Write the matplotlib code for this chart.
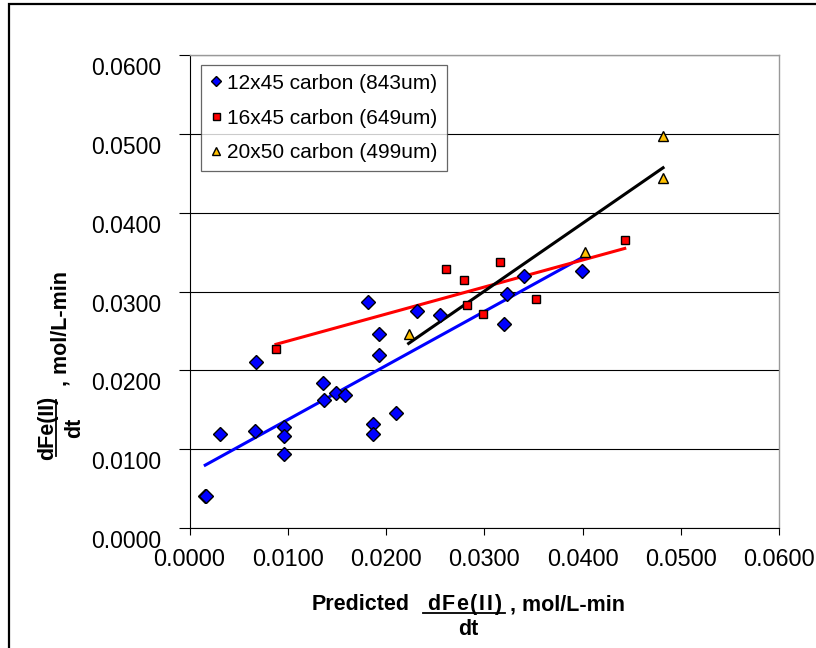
import numpy as np
import matplotlib
matplotlib.use('Agg')
import matplotlib.pyplot as plt
from matplotlib.lines import Line2D
from matplotlib.patches import Rectangle
from matplotlib.transforms import ScaledTranslation

plt.rcParams['font.family'] = ['Liberation Sans', 'DejaVu Sans']

# measured vs predicted dFe(II)/dt, mol/L-min
x_12x45 = [0.00160, 0.00170, 0.00313, 0.00674, 0.00670, 0.00959, 0.00959, 0.00959,
           0.01359, 0.01372, 0.01491, 0.01580, 0.01814, 0.01929, 0.01929, 0.01865,
           0.01865, 0.02099, 0.02316, 0.02553, 0.03228, 0.03204, 0.03408, 0.03998]
y_12x45 = [0.00400, 0.00410, 0.01189, 0.02110, 0.01234, 0.01277, 0.01167, 0.00939,
           0.01835, 0.01624, 0.01709, 0.01687, 0.02863, 0.02465, 0.02191, 0.01319,
           0.01189, 0.01463, 0.02753, 0.02702, 0.02972, 0.02592, 0.03200, 0.03260]

x_16x45 = [0.0088, 0.0261, 0.0279, 0.0282, 0.0299, 0.0316, 0.0353, 0.0443]
y_16x45 = [0.0227, 0.0329, 0.0314, 0.0283, 0.0272, 0.0337, 0.0291, 0.0365]

x_20x50 = [0.0223, 0.0403, 0.0482, 0.0482]
y_20x50 = [0.0246, 0.0350, 0.0497, 0.0444]

labels = ['12x45 carbon (843um)', '16x45 carbon (649um)', '20x50 carbon (499um)']
ticks = [0.0, 0.01, 0.02, 0.03, 0.04, 0.05, 0.06]

W, H = 816, 648
fig = plt.figure(figsize=(W / 100, H / 100), dpi=100)
renderer = fig.canvas.get_renderer()


def fx(px):
    return px / W


def fy(py):
    return 1 - py / H


def spaced_text(x0, y0, s, gap, **kw):
    """Draw s one glyph at a time with extra spacing (pixels)."""
    pos = x0
    for ch in s:
        t = fig.text(fx(pos), fy(y0), ch, ha='left', va='baseline', **kw)
        pos += t.get_window_extent(renderer).width + gap


ax = fig.add_axes([fx(189.5), fy(528), (779 - 189.5) / W, (528 - 55) / H])

ax.plot(x_12x45, y_12x45, 'D', ms=6.8, mfc='#0000FF', mec='black', mew=1.0,
        label=labels[0], zorder=4)
ax.plot(x_16x45, y_16x45, 's', ms=6.3, mfc='#FF0000', mec='black', mew=1.0,
        label=labels[1], zorder=4)
ax.plot(x_20x50, y_20x50, '^', ms=7.5, mfc='#FFC000', mec='black', mew=1.0,
        label=labels[2], zorder=4)

# linear trendlines over each series' range
for xs, ys, c in [(x_12x45, y_12x45, '#0000FF'),
                  (x_16x45, y_16x45, '#FF0000'),
                  (x_20x50, y_20x50, 'black')]:
    xs = np.array(xs)
    k, b = np.polyfit(xs, ys, 1)
    xl = np.array([xs.min(), xs.max()])
    ax.plot(xl, k * xl + b, color=c, lw=2.2, zorder=3)

ax.set_xlim(0, 0.06)
ax.set_ylim(0, 0.06)
ax.set_xticks(ticks)
ax.set_yticks(ticks)
ax.set_xticklabels(['%.4f' % t for t in ticks])
ax.set_yticklabels(['%.4f' % t for t in ticks])
ax.tick_params(axis='y', direction='out', length=8.2, width=0.8, pad=12,
               labelsize=16.5)
ax.tick_params(axis='x', direction='out', length=5, width=0.8, pad=9.5,
               labelsize=16.8)
# y labels sit a little below their ticks
off = ScaledTranslation(0, -0.11, fig.dpi_scale_trans)
for lab in ax.get_yticklabels():
    lab.set_transform(lab.get_transform() + off)

ax.grid(axis='y', color='black', lw=0.8)
ax.set_axisbelow(True)
for s in ['top', 'right']:
    ax.spines[s].set_color('#999999')
    ax.spines[s].set_linewidth(1.0)
for s in ['left', 'bottom']:
    ax.spines[s].set_color('black')
    ax.spines[s].set_linewidth(0.8)

leg = ax.legend(loc='upper left', bbox_to_anchor=(fx(201), fy(65)),
                bbox_transform=fig.transFigure, borderaxespad=0, fontsize=15,
                frameon=True, fancybox=False, handlelength=0.6,
                handletextpad=0.25, labelspacing=0.76, borderpad=0.42,
                markerscale=0.8)
leg.get_frame().set_edgecolor('#404040')
leg.get_frame().set_linewidth(0.9)

# x axis title with fraction
bold = dict(fontsize=15.5, fontweight='bold')
fig.text(fx(312), fy(610), 'Predicted', ha='left', va='baseline', **bold)
spaced_text(427, 610, 'dFe(II)', 1.6, **bold)
fig.text(fx(510), fy(610), ', mol/L-min', ha='left', va='baseline', **bold)
fig.text(fx(468), fy(635), 'dt', ha='center', va='baseline', **bold)
fig.add_artist(Line2D([fx(423), fx(505)], [fy(613), fy(613)], color='black',
                      lw=1.3, transform=fig.transFigure))

# y axis title with fraction
fig.text(fx(53), fy(428), 'dFe(II)', ha='center', va='baseline',
         rotation=90, rotation_mode='anchor', **bold)
fig.text(fx(66), fy(386), ', mol/L-min', ha='left', va='baseline',
         rotation=90, rotation_mode='anchor', **bold)
fig.text(fx(80), fy(428), 'dt', ha='center', va='baseline',
         rotation=90, rotation_mode='anchor', **bold)
fig.add_artist(Line2D([fx(56), fx(56)], [fy(456), fy(400)], color='black',
                      lw=1.3, transform=fig.transFigure))

# chart border
fig.add_artist(Rectangle((fx(9), -0.05), 1.2, fy(4) + 0.05, fill=False,
                         edgecolor='black', lw=1.6, transform=fig.transFigure))

fig.savefig('out.png', dpi=100)
